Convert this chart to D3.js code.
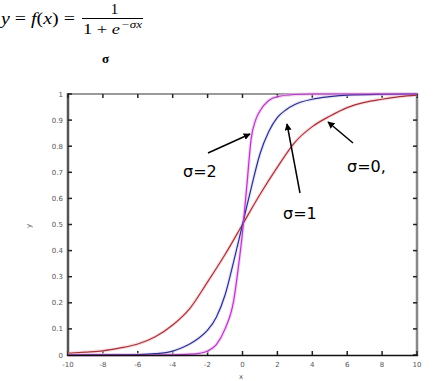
<!DOCTYPE html>
<html><head><meta charset="utf-8">
<script src="https://cdn.jsdelivr.net/npm/d3@7"></script>
<style>body{margin:0;background:#fff}svg{display:block}</style>
</head><body>
<svg id="c" width="446" height="381"></svg>
<script>
// ---- data ----
const xTicks = [-10,-8,-6,-4,-2,0,2,4,6,8,10];
const yTicks = [0,0.1,0.2,0.3,0.4,0.5,0.6,0.7,0.8,0.9,1];
const yTickLabels = ["0","0.1","0.2","0.3","0.4","0.5","0.6","0.7","0.8","0.9","1"];

const redX = [-10,-9,-8,-7,-6,-5,-4,-3,-2,-1,0,1,2,3,4,5,6,7,8,9,10];
const redY = [0.007,0.011,0.016,0.027,0.042,0.07,0.115,0.18,0.28,0.385,0.5,0.615,0.72,0.815,0.875,0.915,0.948,0.968,0.98,0.99,0.996];

const blueX = [-10,-8,-6,-5,-4,-3.5,-3,-2.5,-2,-1.5,-1,-0.5,0,0.5,1,1.5,2,2.5,3,4,5,6,8,10];
const blueY = [0,0.0005,0.002,0.005,0.015,0.027,0.043,0.065,0.095,0.145,0.23,0.36,0.5,0.64,0.77,0.855,0.91,0.94,0.96,0.98,0.99,0.996,0.999,1];

const purpleX = [-10,-6,-4,-3,-2.5,-2,-1.5,-1,-0.5,-0.25,0,0.25,0.5,0.75,1,1.5,2,3,4,6,10];
const purpleY = [0,0,0.001,0.003,0.006,0.015,0.04,0.1,0.21,0.33,0.47,0.65,0.83,0.9,0.935,0.975,0.99,0.998,1,1,1];

const labels = ["σ=2","σ=1","σ=0,"];

// ---- drawing ----
const svg = d3.select("#c");
const x = d3.scaleLinear().domain([-10,10]).range([68,417]);
const y = d3.scaleLinear().domain([0,1]).range([355,94]);

// formula
const f = svg.append("g").attr("font-family","'Liberation Serif','DejaVu Serif',serif").attr("fill","#000");
const t1 = f.append("text").attr("x",1).attr("y",24).attr("font-size",17)
  .attr("textLength",74).attr("lengthAdjust","spacingAndGlyphs");
t1.append("tspan").attr("font-style","italic").text("y");
t1.append("tspan").text(" = ");
t1.append("tspan").attr("font-style","italic").text("f");
t1.append("tspan").text("(");
t1.append("tspan").attr("font-style","italic").text("x");
t1.append("tspan").text(") =");
f.append("text").attr("x",114.5).attr("y",14).attr("font-size",15).attr("text-anchor","middle").text("1");
f.append("line").attr("x1",82).attr("x2",143).attr("y1",18.5).attr("y2",18.5).attr("stroke","#000").attr("stroke-width",1);
const t2 = f.append("text").attr("x",83).attr("y",34).attr("font-size",15)
  .attr("textLength",37).attr("lengthAdjust","spacingAndGlyphs");
t2.append("tspan").text("1 + ");
t2.append("tspan").attr("font-style","italic").text("e");
f.append("text").attr("x",121).attr("y",28).attr("font-size",10).attr("font-style","italic")
  .attr("textLength",21).attr("lengthAdjust","spacingAndGlyphs").text("−σx");
f.append("text").attr("x",102).attr("y",63).attr("font-size",13).attr("font-weight","bold").text("σ");

// frame
const g = svg.append("g");
g.append("line").attr("x1",68).attr("x2",417).attr("y1",94).attr("y2",94).attr("stroke","#999").attr("stroke-width",2);
g.append("line").attr("x1",417).attr("x2",417).attr("y1",93).attr("y2",356).attr("stroke","#888").attr("stroke-width",2.5);

// ticks (inward) + labels
const tickG = svg.append("g").attr("stroke","#222").attr("stroke-width",1.5);
xTicks.forEach(v=>{
  tickG.append("line").attr("x1",x(v)).attr("x2",x(v)).attr("y1",355).attr("y2",351);
  tickG.append("line").attr("x1",x(v)).attr("x2",x(v)).attr("y1",94).attr("y2",98);
});
yTicks.forEach(v=>{
  tickG.append("line").attr("x1",68).attr("x2",72).attr("y1",y(v)).attr("y2",y(v));
  tickG.append("line").attr("x1",417).attr("x2",413).attr("y1",y(v)).attr("y2",y(v));
});
const lab = svg.append("g").attr("font-family","'DejaVu Sans',sans-serif").attr("font-size",7).attr("fill","#555");
xTicks.forEach(v=>{
  lab.append("text").attr("x",x(v)).attr("y",367).attr("text-anchor","middle").text(String(v));
});
yTicks.forEach((v,i)=>{
  lab.append("text").attr("x",63).attr("y",y(v)+2.5).attr("text-anchor","end").text(yTickLabels[i]);
});
lab.append("text").attr("x",241).attr("y",379).attr("text-anchor","middle").text("x");
lab.append("text").attr("transform","translate(31,226) rotate(-90)").attr("text-anchor","middle").text("y");

// curves
const line = (xs,ys)=>d3.line().x((d,i)=>x(xs[i])).y((d,i)=>y(ys[i])).curve(d3.curveMonotoneX)(ys);
const series = [
  {xs:redX, ys:redY, c:"#a33236", glow:"#f6c8d0"},
  {xs:blueX, ys:blueY, c:"#2d2d8e", glow:"#d8d8f4"},
  {xs:purpleX, ys:purpleY, c:"#b03cc4", glow:"#f4b8ec"}
];
const cg = svg.append("g").attr("fill","none");
series.forEach(s=>{
  cg.append("path").attr("d",line(s.xs,s.ys)).attr("stroke",s.glow).attr("stroke-width",3.5).attr("opacity",0.6);
});
series.forEach(s=>{
  cg.append("path").attr("d",line(s.xs,s.ys)).attr("stroke",s.c).attr("stroke-width",1.2);
});

// axes lines over curves
g.append("line").attr("x1",68).attr("x2",68).attr("y1",93).attr("y2",356).attr("stroke","#555").attr("stroke-width",2.5);
svg.append("line").attr("x1",67).attr("x2",418).attr("y1",355.5).attr("y2",355.5).attr("stroke","#111").attr("stroke-width",1.5);

// arrows + labels
svg.append("defs").append("marker").attr("id","ah").attr("viewBox","0 0 10 10").attr("refX",9).attr("refY",5)
  .attr("markerWidth",7).attr("markerHeight",7).attr("orient","auto").attr("markerUnits","userSpaceOnUse")
  .append("path").attr("d","M0,0 L10,5 L0,10 z").attr("fill","#000");
const arrows = [[208,153,250,134],[300,193,287,124],[353,143,328,122]];
arrows.forEach(a=>{
  svg.append("line").attr("x1",a[0]).attr("y1",a[1]).attr("x2",a[2]).attr("y2",a[3])
    .attr("stroke","#000").attr("stroke-width",1.5).attr("marker-end","url(#ah)");
});
const tl = svg.append("g").attr("font-family","'DejaVu Sans',sans-serif").attr("font-size",16).attr("fill","#000");
[[183,177],[283,219],[347,172]].forEach((p,i)=>{
  tl.append("text").attr("x",p[0]).attr("y",p[1]).text(labels[i]);
});
</script>
</body></html>
